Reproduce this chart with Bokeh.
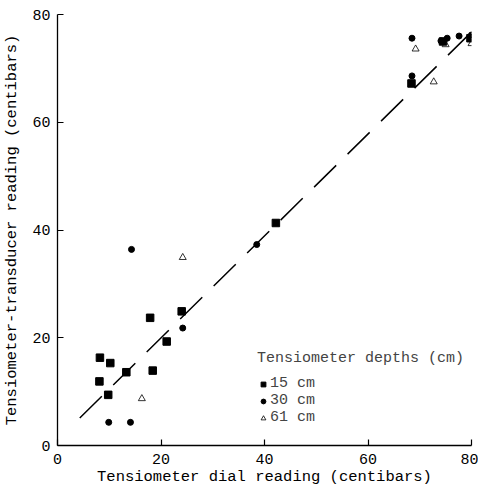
from bokeh.plotting import figure
from bokeh.models import Range1d, FixedTicker, Legend, LegendItem
from bokeh.embed import file_html
from bokeh.resources import INLINE

# Tensiometer depth 15 cm
d15_x = [8.2, 10.2, 8.1, 9.8, 13.3, 17.9, 18.4, 21.1, 24.0, 42.2, 68.4, 74.5, 79.8]
d15_y = [16.3, 15.3, 11.9, 9.4, 13.6, 23.7, 13.9, 19.3, 24.9, 41.3, 67.2, 75.0, 75.6]
# Tensiometer depth 30 cm
d30_x = [14.3, 9.9, 14.1, 24.2, 38.5, 68.5, 68.5, 74.1, 75.3, 77.6, 80.0]
d30_y = [36.4, 4.3, 4.3, 21.8, 37.3, 75.6, 68.6, 75.1, 75.6, 76.0, 76.2]
# Tensiometer depth 61 cm
d61_x = [24.2, 16.3, 69.2, 72.7, 75.0, 80.0]
d61_y = [34.9, 8.7, 73.6, 67.5, 74.4, 74.6]
# Fitted line
fit_x = [4.3, 80.9]
fit_y = [5.1, 77.6]

ticks = [0, 20, 40, 60, 80]
labels = ["15 cm", "30 cm", "61 cm"]
FONT = "Liberation Mono"

p = figure(width=478, height=490, output_backend="svg", toolbar_location=None,
           x_range=Range1d(0, 80), y_range=Range1d(0, 80),
           min_border_left=51, min_border_right=7, min_border_top=14, min_border_bottom=45)
p.outline_line_color = None
p.grid.visible = False
p.background_fill_color = "white"
p.border_fill_color = "white"

p.line(fit_x, fit_y, line_color="black", line_width=1.5, line_dash="31 16")
r15 = p.scatter(d15_x, d15_y, marker="square", size=7.5, fill_color="black", line_color="black")
r30 = p.scatter(d30_x, d30_y, marker="circle", size=6, fill_color="black", line_color="black")
r61 = p.scatter(d61_x, d61_y, marker="triangle", size=7, fill_color=None, line_color="black", line_width=0.8)

for ax in (p.xaxis[0], p.yaxis[0]):
    ax.ticker = FixedTicker(ticks=ticks)
    ax.minor_tick_line_color = None
    ax.major_tick_in = 6
    ax.major_tick_out = 0
    ax.axis_line_width = 1.3
    ax.major_tick_line_width = 1.2
    ax.major_label_text_font = FONT
    ax.major_label_text_font_size = "15px"
    ax.major_label_text_color = "black"
    ax.axis_label_text_font = FONT
    ax.axis_label_text_font_size = "15.5px"
    ax.axis_label_text_font_style = "normal"
    ax.axis_label_text_color = "black"

p.xaxis.axis_label = "Tensiometer dial reading (centibars)"
p.yaxis.axis_label = "Tensiometer-transducer reading (centibars)"
p.xaxis.major_label_standoff = 8
p.xaxis.axis_label_standoff = 1
p.yaxis.major_label_standoff = 7
p.yaxis.axis_label_standoff = 8

legend = Legend(items=[LegendItem(label=labels[0], renderers=[r15]),
                       LegendItem(label=labels[1], renderers=[r30]),
                       LegendItem(label=labels[2], renderers=[r61])],
                location=(200, 19), title="Tensiometer depths (cm)",
                glyph_width=12, glyph_height=16, label_height=16, spacing=0,
                padding=0, margin=0, label_standoff=1, title_standoff=8,
                border_line_color=None, background_fill_alpha=0)
legend.label_text_font = FONT
legend.label_text_font_size = "15px"
legend.title_text_font = FONT
legend.title_text_font_size = "15px"
legend.title_text_font_style = "normal"
p.add_layout(legend)

open("out.html", "w").write(file_html(p, INLINE))
